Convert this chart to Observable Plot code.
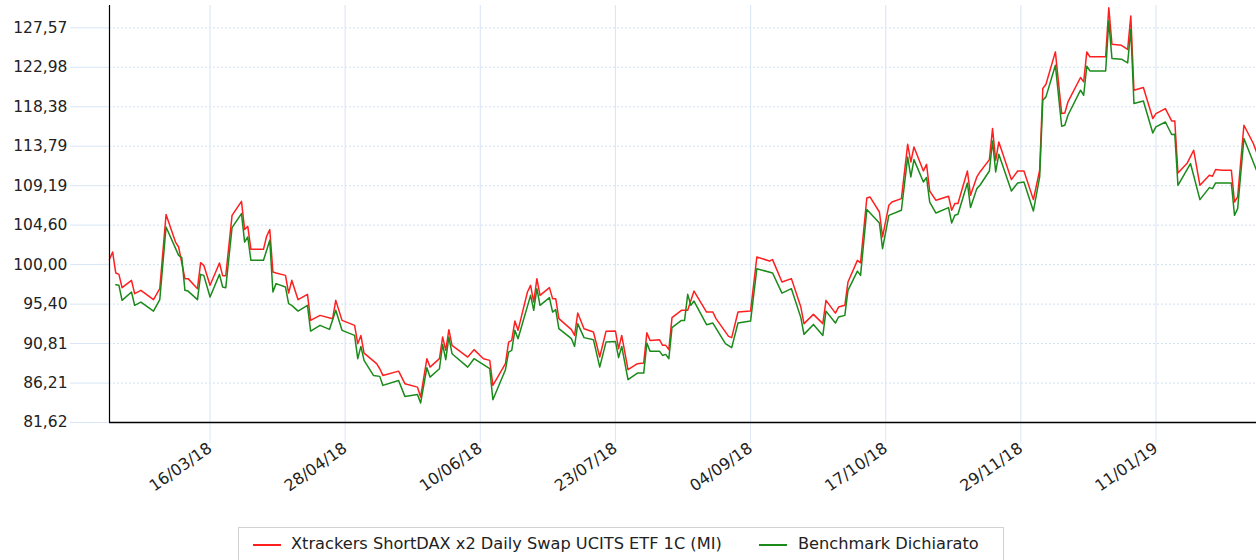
<!DOCTYPE html>
<html>
<head>
<meta charset="utf-8">
<script src="https://cdn.jsdelivr.net/npm/d3@7"></script>
<script src="https://cdn.jsdelivr.net/npm/@observablehq/plot@0.6"></script>
<style>
  body { margin: 0; background: #fff; font-family: "DejaVu Sans", Verdana, sans-serif; }
  #chart { position: absolute; left: 0; top: 0; }
  #legend { position: absolute; left: 238px; top: 527px; width: 766px; height: 45px; border: 1px solid #d2d2d2; box-sizing: border-box; background: #fff; font-size: 16.2px; color: #222; }
  .sw { position: absolute; top: 16px; width: 28px; height: 2px; }
  .lt { position: absolute; top: 6px; white-space: nowrap; line-height: 20px; }
  .xax text { font-size: 16px; }
</style>
</head>
<body>
<div id="chart"></div>
<div id="legend"></div>
<script>
// ---- DATA ----
const seriesNames = ["Xtrackers ShortDAX x2 Daily Swap UCITS ETF 1C (MI)", "Benchmark Dichiarato"];
const seriesColors = ["#ff1f1f", "#1a8a1a"];

const etfDates = ["2018-02-12","2018-02-13","2018-02-14","2018-02-15","2018-02-16","2018-02-19","2018-02-20","2018-02-22","2018-02-26","2018-02-28",
"2018-03-02","2018-03-05","2018-03-06","2018-03-08","2018-03-09","2018-03-12","2018-03-13","2018-03-14","2018-03-16","2018-03-19",
"2018-03-20","2018-03-21","2018-03-23","2018-03-26","2018-03-27","2018-03-28","2018-03-29","2018-04-02","2018-04-03","2018-04-04",
"2018-04-05","2018-04-06","2018-04-09","2018-04-10","2018-04-11","2018-04-13","2018-04-16","2018-04-17","2018-04-20","2018-04-24",
"2018-04-25","2018-04-27","2018-05-01","2018-05-02","2018-05-03","2018-05-04","2018-05-08","2018-05-09","2018-05-10","2018-05-15",
"2018-05-17","2018-05-21","2018-05-22","2018-05-24","2018-05-25","2018-05-28","2018-05-29","2018-05-30","2018-05-31","2018-06-01",
"2018-06-06","2018-06-08","2018-06-11","2018-06-13","2018-06-14","2018-06-18","2018-06-19","2018-06-20","2018-06-21","2018-06-22",
"2018-06-25","2018-06-26","2018-06-27","2018-06-28","2018-06-29","2018-07-02","2018-07-03","2018-07-04","2018-07-05","2018-07-09",
"2018-07-10","2018-07-11","2018-07-13","2018-07-16","2018-07-18","2018-07-20","2018-07-23","2018-07-24","2018-07-25","2018-07-27",
"2018-07-30","2018-08-01","2018-08-02","2018-08-03","2018-08-06","2018-08-07","2018-08-08","2018-08-09","2018-08-10","2018-08-13",
"2018-08-15","2018-08-17","2018-08-21","2018-08-23","2018-08-24","2018-08-28","2018-08-29","2018-08-31","2018-09-04","2018-09-06",
"2018-09-10","2018-09-11","2018-09-14","2018-09-17","2018-09-20","2018-09-21","2018-09-24","2018-09-27","2018-09-28","2018-10-01",
"2018-10-02","2018-10-04","2018-10-05","2018-10-08","2018-10-09","2018-10-11","2018-10-12","2018-10-15","2018-10-16","2018-10-18",
"2018-10-19","2018-10-22","2018-10-24","2018-10-25","2018-10-26","2018-10-29","2018-10-30","2018-10-31","2018-11-02","2018-11-06",
"2018-11-07","2018-11-08","2018-11-09","2018-11-12","2018-11-13","2018-11-15","2018-11-16","2018-11-19","2018-11-20","2018-11-21",
"2018-11-22","2018-11-26","2018-11-28","2018-11-30","2018-12-03","2018-12-05","2018-12-06","2018-12-07","2018-12-10","2018-12-12",
"2018-12-13","2018-12-14","2018-12-18","2018-12-19","2018-12-20","2018-12-21","2018-12-26","2018-12-27","2018-12-28","2018-12-31",
"2019-01-02","2019-01-03","2019-01-04","2019-01-07","2019-01-10","2019-01-11","2019-01-14","2019-01-16","2019-01-17","2019-01-18",
"2019-01-21","2019-01-23","2019-01-25","2019-01-28","2019-01-29","2019-01-30","2019-02-01","2019-02-04","2019-02-05","2019-02-06",
"2019-02-08","2019-02-11","2019-02-12"];
const etfValues = [100.62,101.47,99.02,98.87,97.32,98.17,96.62,97.01,95.92,97.20,
105.83,102.63,102.05,98.37,98.37,97.20,100.23,99.92,97.59,100.19,
98.72,98.72,105.74,107.37,104.08,104.46,101.78,101.78,103.30,104.08,
99.14,99.02,98.75,96.69,98.17,95.92,96.54,93.51,94.09,93.71,
95.84,93.51,92.93,90.80,91.76,89.70,88.47,87.88,87.10,87.60,
86.14,85.74,84.58,89.05,88.07,89.05,91.57,90.02,92.43,90.60,
89.24,90.10,89.05,88.85,85.94,88.47,90.98,91.18,93.43,92.35,
96.81,97.59,95.64,98.37,96.42,97.32,96.04,96.04,93.71,92.43,
91.76,94.36,92.54,92.15,89.24,92.23,92.26,90.21,91.76,87.77,
88.47,88.54,92.08,91.18,91.26,90.60,90.60,90.10,93.83,94.68,
94.68,96.92,94.48,94.48,93.71,91.65,91.50,94.48,94.59,100.89,
100.42,100.58,97.97,98.37,95.06,93.13,94.21,93.13,95.84,94.36,
95.06,95.26,97.97,100.50,100.21,107.76,107.88,106.13,103.22,106.91,
107.29,107.69,114.01,111.95,113.70,110.90,111.68,108.57,107.49,107.96,
106.33,107.11,107.11,110.90,108.07,110.21,110.79,112.23,115.84,112.15,
114.28,109.90,110.90,110.90,107.57,110.99,120.50,121.00,124.77,117.59,
117.66,118.94,121.79,121.27,124.77,124.19,124.19,129.90,125.66,125.54,
125.05,128.96,120.31,120.62,117.01,117.59,118.17,116.73,116.73,110.67,
111.84,113.32,109.24,110.40,110.29,111.07,110.99,110.99,107.29,107.88,
116.23,114.10,113.12];

const benchDates = ["2018-02-14","2018-02-15","2018-02-16","2018-02-19","2018-02-20","2018-02-22","2018-02-26","2018-02-28","2018-03-02","2018-03-06",
"2018-03-07","2018-03-08","2018-03-09","2018-03-12","2018-03-13","2018-03-14","2018-03-16","2018-03-19","2018-03-20","2018-03-21",
"2018-03-23","2018-03-26","2018-03-27","2018-03-28","2018-03-29","2018-04-02","2018-04-04","2018-04-05","2018-04-06","2018-04-09",
"2018-04-10","2018-04-11","2018-04-13","2018-04-16","2018-04-17","2018-04-20","2018-04-23","2018-04-25","2018-04-27","2018-05-01",
"2018-05-02","2018-05-03","2018-05-04","2018-05-07","2018-05-09","2018-05-10","2018-05-15","2018-05-17","2018-05-21","2018-05-22",
"2018-05-24","2018-05-25","2018-05-28","2018-05-29","2018-05-30","2018-05-31","2018-06-01","2018-06-06","2018-06-08","2018-06-13",
"2018-06-14","2018-06-18","2018-06-19","2018-06-20","2018-06-21","2018-06-22","2018-06-26","2018-06-27","2018-06-28","2018-06-29",
"2018-07-02","2018-07-03","2018-07-04","2018-07-05","2018-07-09","2018-07-10","2018-07-11","2018-07-13","2018-07-16","2018-07-18",
"2018-07-20","2018-07-23","2018-07-24","2018-07-25","2018-07-27","2018-07-30","2018-08-01","2018-08-02","2018-08-03","2018-08-06",
"2018-08-07","2018-08-08","2018-08-09","2018-08-10","2018-08-13","2018-08-14","2018-08-15","2018-08-16","2018-08-17","2018-08-21",
"2018-08-23","2018-08-27","2018-08-29","2018-08-31","2018-09-04","2018-09-06","2018-09-11","2018-09-14","2018-09-17","2018-09-20",
"2018-09-21","2018-09-24","2018-09-27","2018-09-28","2018-10-01","2018-10-02","2018-10-04","2018-10-05","2018-10-08","2018-10-09",
"2018-10-11","2018-10-15","2018-10-16","2018-10-18","2018-10-22","2018-10-24","2018-10-25","2018-10-26","2018-10-29","2018-10-30",
"2018-10-31","2018-11-02","2018-11-06","2018-11-07","2018-11-08","2018-11-09","2018-11-12","2018-11-13","2018-11-15","2018-11-16",
"2018-11-19","2018-11-20","2018-11-21","2018-11-22","2018-11-26","2018-11-28","2018-11-30","2018-12-03","2018-12-05","2018-12-06",
"2018-12-07","2018-12-10","2018-12-12","2018-12-13","2018-12-14","2018-12-18","2018-12-19","2018-12-20","2018-12-21","2018-12-26",
"2018-12-27","2018-12-28","2018-12-31","2019-01-02","2019-01-03","2019-01-04","2019-01-07","2019-01-10","2019-01-11","2019-01-14",
"2019-01-16","2019-01-17","2019-01-18","2019-01-22","2019-01-25","2019-01-28","2019-01-29","2019-01-30","2019-02-04","2019-02-05",
"2019-02-06","2019-02-08","2019-02-12"];
const benchValues = [97.67,97.59,95.84,96.81,95.26,95.64,94.59,95.92,104.38,101.08,
100.82,97.01,96.92,95.92,98.87,98.75,96.23,98.87,97.39,97.32,
104.31,105.94,102.63,103.22,100.50,100.50,102.83,96.81,97.79,97.39,
95.46,95.26,94.59,95.26,92.26,92.93,92.46,94.68,92.35,91.76,
89.05,90.48,88.85,87.10,86.99,85.94,86.52,84.66,84.89,83.88,
88.00,86.91,87.88,90.71,88.93,91.57,89.63,88.07,89.05,87.88,
84.27,87.77,89.82,90.02,92.35,91.38,96.42,94.68,97.20,95.26,
96.16,94.48,94.76,92.54,91.38,90.48,93.13,91.50,91.26,88.07,
90.98,91.06,89.17,90.48,86.60,87.37,87.37,90.87,89.93,89.93,
89.43,89.55,89.05,92.66,93.51,93.51,96.54,95.26,95.76,93.01,
93.20,90.80,90.33,93.20,93.43,99.53,99.02,96.69,97.20,93.83,
91.88,93.04,91.76,94.59,93.20,93.90,94.09,97.01,99.25,98.75,
106.41,104.85,101.86,105.74,106.33,112.54,110.21,112.23,109.62,110.14,
107.29,106.01,106.64,104.85,105.74,105.86,109.51,106.64,108.85,109.24,
110.90,114.40,110.79,112.85,108.57,109.51,109.62,106.24,110.21,119.14,
119.53,123.22,116.11,116.23,117.39,120.31,119.72,123.10,122.55,122.55,
128.38,124.00,123.92,123.49,127.38,118.76,119.06,115.33,116.03,116.61,
115.15,115.18,109.24,111.77,107.57,108.97,108.85,109.51,109.51,105.74,
106.52,114.68,110.99];

const xDomain = ["2018-02-12", "2019-02-12"];
const xTickDates = ["2018-03-16","2018-04-28","2018-06-10","2018-07-23","2018-09-04","2018-10-17","2018-11-29","2019-01-11"];
const yDomain = [81.62, 130.17];
const yTickValues = [81.62, 86.21, 90.81, 95.40, 100.00, 104.60, 109.19, 113.79, 118.38, 122.98, 127.57];
const yTickLabels = ["81,62","86,21","90,81","95,40","100,00","104,60","109,19","113,79","118,38","122,98","127,57"];

// ---- BUILD ----
const parse = d3.utcParse("%Y-%m-%d");
const rows = [
  ...etfDates.map((d, i) => ({date: parse(d), value: etfValues[i], series: seriesNames[0]})),
  ...benchDates.map((d, i) => ({date: parse(d), value: benchValues[i], series: seriesNames[1]}))
];
const xTicks = xTickDates.map(parse);
const x0 = parse(xDomain[0]);

const chart = Plot.plot({
  width: 1256,
  height: 520,
  marginLeft: 109,
  marginRight: 0,
  marginTop: 5,
  marginBottom: 98,
  style: {fontFamily: '"DejaVu Sans", Verdana, sans-serif', fontSize: "15.5px", color: "#222", background: "#fff", overflow: "visible"},
  x: {type: "utc", domain: xDomain.map(parse), label: null},
  y: {domain: yDomain, label: null},
  color: {domain: seriesNames, range: seriesColors},
  marks: [
    Plot.ruleY(yTickValues, {stroke: "#d3e1f3", strokeDasharray: "2,2", strokeWidth: 1}),
    Plot.ruleX(xTicks, {stroke: "#dde8f6", strokeWidth: 1.2}),
    Plot.axisY(yTickValues, {tickSize: 39, tickPadding: 3, stroke: "#d8e5f5", fill: "#222", label: null,
      tickFormat: d => yTickLabels[yTickValues.indexOf(d)]}),
    Plot.axisX(xTicks, {className: "xax", tickSize: 21, tickPadding: 3, stroke: "#dde8f6", fill: "#222", label: null, tickRotate: -35,
      fontSize: 16, tickFormat: d3.utcFormat("%d/%m/%y")}),
    Plot.lineY(rows, {x: "date", y: "value", z: "series", stroke: "series", strokeWidth: 1.5}),
    Plot.ruleX([x0], {stroke: "#000", strokeWidth: 1.2}),
    Plot.ruleY([yDomain[0]], {stroke: "#000", strokeWidth: 1.5})
  ]
});
document.getElementById("chart").appendChild(chart);

// legend
const lg = document.getElementById("legend");
const swLeft = [14, 520];
const txLeft = [52, 559];
seriesNames.forEach((name, i) => {
  const sw = document.createElement("span");
  sw.className = "sw";
  sw.style.left = swLeft[i] + "px";
  sw.style.background = seriesColors[i];
  lg.appendChild(sw);
  const t = document.createElement("span");
  t.className = "lt";
  t.style.left = txLeft[i] + "px";
  t.textContent = name;
  lg.appendChild(t);
});
</script>
</body>
</html>
